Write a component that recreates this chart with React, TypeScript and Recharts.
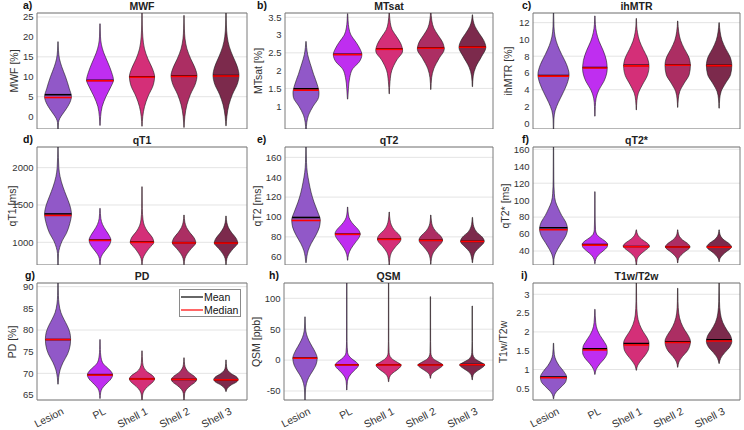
import React from 'react';
import { ComposedChart, Bar, XAxis, YAxis, CartesianGrid, ReferenceArea } from 'recharts';

const categories = ['Lesion', 'PL', 'Shell 1', 'Shell 2', 'Shell 3'];
const colors = ['#9158C8', '#BF2EF0', '#D42F78', '#AC2E63', '#7C2A4C'];

// Violin outlines: [value, half-width as fraction of category band]
const mwfShapes = [
  [[-3.6,0.004],[-1.5,0.012],[-0.5,0.04],[0.5,0.1],[2,0.2],[4,0.3],[5,0.32],[7,0.27],[10,0.18],[12.5,0.09],[14.5,0.035],[16.5,0.012],[18.8,0.004]],
  [[-2.2,0.004],[0,0.015],[2.5,0.05],[5,0.14],[7.5,0.26],[9.2,0.32],[11,0.28],[13.5,0.19],[16,0.09],[18,0.035],[20,0.012],[23.3,0.004]],
  [[-2.4,0.004],[0,0.018],[2.5,0.06],[5,0.14],[8,0.27],[10,0.3],[12,0.25],[14.5,0.14],[17,0.06],[20,0.02],[23,0.008],[27,0.004]],
  [[-2.7,0.004],[0,0.02],[3,0.07],[5.5,0.15],[8.5,0.28],[10.2,0.31],[12,0.27],[14.5,0.16],[17,0.07],[19.5,0.025],[22,0.01],[25.4,0.004]],
  [[-2.3,0.004],[0,0.02],[3,0.07],[5.5,0.15],[8.5,0.28],[10.3,0.31],[12.5,0.27],[15,0.17],[17.5,0.08],[20,0.03],[23,0.01],[27,0.004]],
];
const mwfMean = [5.5, 9.1, 10.0, 10.2, 10.3];
const mwfMedian = [4.8, 9.0, 9.9, 10.1, 10.2];
const mwfTicks = [0, 5, 10, 15, 20, 25];

const mtsatShapes = [
  [[0.3,0.004],[0.55,0.02],[0.75,0.06],[1.0,0.17],[1.25,0.3],[1.38,0.31],[1.6,0.27],[1.9,0.18],[2.2,0.1],[2.45,0.04],[2.65,0.015],[2.82,0.004]],
  [[1.2,0.004],[1.5,0.02],[1.8,0.05],[2.05,0.12],[2.25,0.28],[2.45,0.34],[2.6,0.3],[2.8,0.2],[3.0,0.08],[3.2,0.03],[3.4,0.012],[3.6,0.004]],
  [[1.35,0.004],[1.7,0.02],[2.0,0.06],[2.3,0.18],[2.55,0.32],[2.75,0.28],[2.95,0.18],[3.15,0.07],[3.35,0.025],[3.65,0.004]],
  [[1.47,0.004],[1.8,0.02],[2.05,0.07],[2.35,0.2],[2.6,0.32],[2.8,0.28],[3.0,0.17],[3.2,0.07],[3.4,0.025],[3.7,0.004]],
  [[1.55,0.004],[1.85,0.02],[2.1,0.08],[2.4,0.22],[2.65,0.32],[2.85,0.27],[3.05,0.16],[3.25,0.06],[3.4,0.02],[3.57,0.004]],
];
const mtsatMean = [1.49, 2.46, 2.61, 2.64, 2.67];
const mtsatMedian = [1.45, 2.45, 2.6, 2.63, 2.66];
const mtsatTicks = [0.5, 1, 1.5, 2, 2.5, 3, 3.5];

const ihmtrShapes = [
  [[-0.8,0.004],[0.5,0.01],[1.5,0.04],[2.5,0.12],[3.5,0.22],[4.7,0.33],[5.8,0.38],[7,0.32],[8.2,0.2],[9.3,0.1],[10.3,0.04],[11.5,0.012],[13.3,0.004]],
  [[0.85,0.004],[2,0.01],[3,0.03],[4,0.1],[5,0.22],[6.5,0.3],[7.5,0.28],[8.7,0.2],[9.8,0.1],[10.8,0.04],[11.8,0.012],[12.8,0.004]],
  [[1.6,0.004],[2.7,0.015],[3.6,0.05],[4.6,0.15],[5.7,0.27],[6.8,0.31],[7.8,0.27],[8.8,0.17],[9.8,0.08],[10.8,0.03],[11.6,0.01],[12.5,0.004]],
  [[1.9,0.004],[2.9,0.015],[3.8,0.05],[4.8,0.16],[5.8,0.28],[6.9,0.31],[7.9,0.27],[8.9,0.16],[9.9,0.07],[10.9,0.025],[12.2,0.004]],
  [[1.8,0.004],[2.9,0.015],[3.8,0.05],[4.8,0.16],[5.8,0.28],[6.9,0.31],[7.9,0.27],[8.9,0.16],[9.9,0.07],[10.9,0.025],[12.0,0.004]],
];
const ihmtrMean = [5.68, 6.65, 6.9, 6.95, 6.9];
const ihmtrMedian = [5.62, 6.6, 6.85, 6.92, 6.87];
const ihmtrTicks = [0, 2, 4, 6, 8, 10, 12];

const qt1Shapes = [
  [[690,0.004],[850,0.012],[930,0.04],[1020,0.1],[1120,0.2],[1250,0.28],[1380,0.32],[1500,0.28],[1620,0.2],[1740,0.12],[1880,0.05],[2000,0.02],[2280,0.004]],
  [[700,0.004],[780,0.015],[840,0.06],[900,0.14],[970,0.23],[1030,0.26],[1090,0.22],[1160,0.14],[1240,0.06],[1320,0.02],[1455,0.004]],
  [[700,0.004],[780,0.02],[850,0.08],[920,0.17],[1000,0.28],[1070,0.24],[1140,0.14],[1220,0.06],[1300,0.025],[1450,0.008],[1745,0.004]],
  [[700,0.004],[780,0.02],[850,0.08],[920,0.18],[995,0.28],[1060,0.24],[1130,0.14],[1200,0.06],[1270,0.02],[1366,0.004]],
  [[700,0.004],[780,0.02],[850,0.08],[920,0.18],[990,0.28],[1055,0.24],[1125,0.14],[1195,0.06],[1265,0.02],[1353,0.004]],
];
const qt1Mean = [1380, 1030, 1005, 995, 992];
const qt1Median = [1360, 1025, 1000, 992, 990];
const qt1Ticks = [1000, 1500, 2000];

const qt2Shapes = [
  [[54,0.004],[60,0.02],[66,0.05],[73,0.12],[82,0.24],[90,0.32],[97,0.34],[105,0.28],[115,0.19],[125,0.12],[135,0.07],[145,0.03],[155,0.012],[172,0.004]],
  [[56.5,0.004],[62,0.02],[68,0.08],[74,0.18],[80,0.28],[83,0.3],[87,0.26],[92,0.15],[97,0.06],[102,0.02],[110,0.004]],
  [[51,0.004],[58,0.015],[64,0.05],[70,0.15],[76,0.27],[78,0.28],[82,0.24],[87,0.12],[92,0.05],[97,0.02],[105,0.004]],
  [[52.5,0.004],[58,0.015],[64,0.06],[70,0.17],[75,0.27],[77,0.28],[81,0.23],[86,0.11],[91,0.04],[96,0.015],[102,0.004]],
  [[54,0.004],[59,0.02],[65,0.07],[70,0.18],[74,0.27],[76,0.28],[80,0.23],[85,0.1],[90,0.035],[95,0.012],[99.6,0.004]],
];
const qt2Mean = [99.5, 82.7, 77.7, 76.6, 75.5];
const qt2Median = [96.5, 82.5, 77.5, 76.4, 75.4];
const qt2Ticks = [60, 80, 100, 120, 140, 160];

const qt2sShapes = [
  [[22,0.004],[30,0.01],[36,0.04],[42,0.1],[50,0.2],[58,0.3],[66,0.34],[74,0.3],[82,0.2],[90,0.12],[98,0.05],[108,0.02],[125,0.008],[165,0.004]],
  [[25,0.004],[30,0.02],[35,0.08],[40,0.2],[45,0.3],[48,0.31],[52,0.24],[56,0.12],[60,0.04],[65,0.015],[80,0.006],[110,0.004]],
  [[22,0.004],[30,0.02],[35,0.08],[40,0.2],[44,0.3],[46,0.32],[50,0.25],[54,0.13],[58,0.05],[62,0.015],[65,0.004]],
  [[26,0.004],[31,0.02],[35,0.08],[40,0.2],[43,0.28],[45,0.3],[49,0.24],[53,0.12],[57,0.045],[61,0.015],[65,0.004]],
  [[27.4,0.004],[31,0.02],[35,0.08],[40,0.2],[43,0.28],[45,0.3],[49,0.24],[53,0.12],[57,0.045],[61,0.015],[65,0.004]],
];
const qt2sMean = [67.5, 47.5, 45.3, 44.9, 44.8];
const qt2sMedian = [65, 47, 45, 44.7, 44.6];
const qt2sTicks = [40, 60, 80, 100, 120, 140, 160];

const pdShapes = [
  [[67.5,0.004],[69,0.015],[70.8,0.05],[72.5,0.12],[74.5,0.23],[76.5,0.29],[78,0.3],[79.5,0.28],[81,0.22],[82.5,0.14],[84,0.07],[86,0.025],[88,0.01],[92,0.004]],
  [[64.2,0.004],[65.5,0.015],[66.5,0.05],[67.5,0.14],[68.7,0.26],[69.6,0.3],[70.5,0.26],[71.5,0.15],[72.5,0.06],[74,0.02],[75.5,0.008],[77.8,0.004]],
  [[63,0.004],[65,0.015],[66,0.05],[67,0.14],[68,0.26],[68.7,0.3],[69.5,0.25],[70.3,0.13],[71.2,0.05],[72.5,0.015],[75.2,0.004]],
  [[63,0.004],[65.3,0.015],[66.3,0.06],[67.2,0.16],[68,0.27],[68.6,0.3],[69.3,0.25],[70.1,0.13],[71,0.05],[72,0.015],[73.6,0.004]],
  [[65.8,0.004],[66.5,0.03],[67.3,0.12],[68,0.25],[68.6,0.29],[69.2,0.25],[69.9,0.13],[70.6,0.05],[71.5,0.015],[73.1,0.004]],
];
const pdMean = [77.8, 69.7, 68.75, 68.6, 68.5];
const pdMedian = [77.8, 69.6, 68.7, 68.6, 68.5];
const pdTicks = [65, 70, 75, 80, 85, 90];

const qsmShapes = [
  [[-66,0.004],[-50,0.01],[-38,0.035],[-28,0.09],[-18,0.18],[-8,0.26],[3,0.29],[12,0.25],[22,0.17],[32,0.09],[42,0.035],[52,0.012],[70,0.004]],
  [[-48.4,0.004],[-35,0.015],[-26,0.06],[-18,0.16],[-12,0.25],[-8,0.28],[-3,0.22],[2,0.12],[7,0.05],[12,0.02],[30,0.006],[126,0.004]],
  [[-35,0.004],[-28,0.02],[-22,0.08],[-16,0.2],[-11,0.28],[-8,0.3],[-4,0.22],[1,0.1],[6,0.035],[12,0.012],[30,0.005],[126,0.004]],
  [[-29.5,0.004],[-24,0.02],[-19,0.09],[-14,0.2],[-10,0.28],[-8,0.3],[-4,0.22],[1,0.09],[6,0.03],[12,0.01],[30,0.005],[102.7,0.004]],
  [[-32,0.004],[-25,0.02],[-19,0.09],[-14,0.2],[-10,0.28],[-8,0.3],[-4,0.22],[1,0.09],[6,0.03],[12,0.01],[30,0.005],[87.6,0.004]],
];
const qsmMean = [3.5, -7.5, -7.5, -7.5, -7.2];
const qsmMedian = [3, -8, -8, -8, -7.5];
const qsmTicks = [-50, 0, 50, 100];

const t1t2Shapes = [
  [[0.22,0.004],[0.33,0.025],[0.42,0.08],[0.55,0.2],[0.68,0.3],[0.8,0.32],[0.95,0.25],[1.1,0.14],[1.25,0.06],[1.4,0.02],[1.7,0.004]],
  [[0.87,0.004],[1.0,0.03],[1.15,0.12],[1.3,0.24],[1.45,0.3],[1.6,0.29],[1.75,0.22],[1.9,0.13],[2.05,0.06],[2.25,0.02],[2.6,0.004]],
  [[0.98,0.004],[1.1,0.03],[1.25,0.12],[1.4,0.23],[1.55,0.3],[1.7,0.31],[1.85,0.26],[2.0,0.17],[2.2,0.08],[2.45,0.025],[2.8,0.008],[3.3,0.004]],
  [[1.06,0.004],[1.2,0.03],[1.35,0.12],[1.5,0.24],[1.65,0.3],[1.75,0.31],[1.9,0.26],[2.05,0.17],[2.25,0.08],[2.5,0.025],[2.8,0.008],[3.16,0.004]],
  [[1.16,0.004],[1.3,0.04],[1.45,0.14],[1.6,0.26],[1.75,0.31],[1.9,0.28],[2.05,0.19],[2.25,0.09],[2.5,0.03],[2.8,0.01],[3.35,0.004]],
];
const t1t2Mean = [0.8, 1.55, 1.69, 1.74, 1.79];
const t1t2Median = [0.78, 1.52, 1.65, 1.72, 1.76];
const t1t2Ticks = [0.5, 1, 1.5, 2, 2.5, 3];

const panels = [
  { letter: 'a)', title: 'MWF', ylabel: 'MWF [%]', domain: [-3.1, 26], ticks: mwfTicks, shapes: mwfShapes, mean: mwfMean, median: mwfMedian, x0: 37, x1: 247, y0: 13, y1: 129, lx: 14, tx: 23 },
  { letter: 'b)', title: 'MTsat', ylabel: 'MTsat [%]', domain: [0.36, 3.62], ticks: mtsatTicks, shapes: mtsatShapes, mean: mtsatMean, median: mtsatMedian, x0: 285, x1: 493, y0: 13, y1: 129, lx: 258, tx: 257 },
  { letter: 'c)', title: 'ihMTR', ylabel: 'ihMTR [%]', domain: [-0.68, 13.15], ticks: ihmtrTicks, shapes: ihmtrShapes, mean: ihmtrMean, median: ihmtrMedian, x0: 533, x1: 740, y0: 13, y1: 129, lx: 508, tx: 522 },
  { letter: 'd)', title: 'qT1', ylabel: 'qT1 [ms]', domain: [696, 2277], ticks: qt1Ticks, shapes: qt1Shapes, mean: qt1Mean, median: qt1Median, x0: 37, x1: 247, y0: 147, y1: 265, lx: 12, tx: 23 },
  { letter: 'e)', title: 'qT2', ylabel: 'qT2 [ms]', domain: [51.7, 170.4], ticks: qt2Ticks, shapes: qt2Shapes, mean: qt2Mean, median: qt2Median, x0: 285, x1: 493, y0: 147, y1: 265, lx: 257, tx: 257 },
  { letter: 'f)', title: 'qT2*', ylabel: 'qT2* [ms]', domain: [23.5, 162.7], ticks: qt2sTicks, shapes: qt2sShapes, mean: qt2sMean, median: qt2sMedian, x0: 533, x1: 740, y0: 147, y1: 265, lx: 505, tx: 522 },
  { letter: 'g)', title: 'PD', ylabel: 'PD [%]', domain: [63.85, 90.85], ticks: pdTicks, shapes: pdShapes, mean: pdMean, median: pdMedian, x0: 37, x1: 247, y0: 283, y1: 400, lx: 12, tx: 25, showX: true },
  { letter: 'h)', title: 'QSM', ylabel: 'QSM [ppb]', domain: [-64.6, 124.8], ticks: qsmTicks, shapes: qsmShapes, mean: qsmMean, median: qsmMedian, x0: 284, x1: 493, y0: 283, y1: 400, lx: 256, tx: 269, showX: true },
  { letter: 'i)', title: 'T1w/T2w', ylabel: 'T1w/T2w', domain: [0.19, 3.3], ticks: t1t2Ticks, shapes: t1t2Shapes, mean: t1t2Mean, median: t1t2Median, x0: 533, x1: 740, y0: 283, y1: 400, lx: 503, tx: 521, showX: true },
];

function slopes(vs: number[], ws: number[]) {
  const n = vs.length;
  const h: number[] = [];
  const s: number[] = [];
  for (let i = 0; i < n - 1; i++) {
    h[i] = vs[i + 1] - vs[i];
    s[i] = (ws[i + 1] - ws[i]) / h[i];
  }
  const m: number[] = new Array(n).fill(0);
  for (let i = 1; i < n - 1; i++) {
    const s0 = s[i - 1], s1 = s[i];
    if (s0 * s1 <= 0) { m[i] = 0; continue; }
    const p = (s0 * h[i] + s1 * h[i - 1]) / (h[i - 1] + h[i]);
    m[i] = (Math.sign(s0) + Math.sign(s1)) * Math.min(Math.abs(s0), Math.abs(s1), 0.5 * Math.abs(p));
  }
  m[0] = (3 * s[0] - m[1]) / 2;
  m[n - 1] = (3 * s[n - 2] - m[n - 2]) / 2;
  return m;
}

function widthAt(vs: number[], ws: number[], m: number[], v: number) {
  const n = vs.length;
  if (v <= vs[0]) return ws[0];
  if (v >= vs[n - 1]) return ws[n - 1];
  let i = 0;
  while (i < n - 2 && v > vs[i + 1]) i++;
  const h = vs[i + 1] - vs[i];
  const t = (v - vs[i]) / h;
  const t2 = t * t, t3 = t2 * t;
  return (2 * t3 - 3 * t2 + 1) * ws[i] + (t3 - 2 * t2 + t) * h * m[i] + (-2 * t3 + 3 * t2) * ws[i + 1] + (t3 - t2) * h * m[i + 1];
}

function Violin(props: any) {
  const { x, y, width, height, payload, domain } = props;
  const row = payload || props;
  const [lo, hi] = domain;
  const top = Math.min(y, y + height);
  const H = Math.abs(height);
  const cx = x + width / 2;
  const band = width;
  const Y = (v: number) => top + ((hi - v) / (hi - lo)) * H;
  const X = (w: number, side: number) => cx + side * w * band;
  const vs = row.knots.map((k: number[]) => k[0]);
  const ws = row.knots.map((k: number[]) => k[1]);
  const m = slopes(vs, ws);
  const n = vs.length;
  let d = `M${X(ws[0], 1)},${Y(vs[0])}`;
  for (let i = 0; i < n - 1; i++) {
    const h = vs[i + 1] - vs[i];
    d += ` C${X(ws[i] + m[i] * h / 3, 1)},${Y(vs[i] + h / 3)} ${X(ws[i + 1] - m[i + 1] * h / 3, 1)},${Y(vs[i + 1] - h / 3)} ${X(ws[i + 1], 1)},${Y(vs[i + 1])}`;
  }
  d += ` L${X(ws[n - 1], -1)},${Y(vs[n - 1])}`;
  for (let i = n - 2; i >= 0; i--) {
    const h = vs[i + 1] - vs[i];
    d += ` C${X(ws[i + 1] - m[i + 1] * h / 3, -1)},${Y(vs[i + 1] - h / 3)} ${X(ws[i] + m[i] * h / 3, -1)},${Y(vs[i] + h / 3)} ${X(ws[i], -1)},${Y(vs[i])}`;
  }
  d += ' Z';
  const wMean = widthAt(vs, ws, m, row.mean);
  const wMed = widthAt(vs, ws, m, row.median);
  return (
    <g>
      <path d={d} fill={row.color} stroke="#1a1a1a" strokeOpacity={0.85} strokeWidth={0.7} />
      <line x1={X(wMean, -1)} x2={X(wMean, 1)} y1={Y(row.mean)} y2={Y(row.mean)} stroke="#000" strokeWidth={1.6} />
      <line x1={X(wMed, -1)} x2={X(wMed, 1)} y1={Y(row.median)} y2={Y(row.median)} stroke="#FF0000" strokeWidth={1.6} />
    </g>
  );
}

const RotTick = (props: any) => {
  const { x, y, payload } = props;
  return (
    <text x={x + 3} y={y - 1} transform={`rotate(-27 ${x + 3} ${y - 1})`} textAnchor="end" fontSize={10.5} fill="#333" dy="0.71em">
      {payload.value}
    </text>
  );
};

function Panel({ p }: { p: any }) {
  const YW = 40;
  const XH = p.showX ? 30 : 0;
  const mt = 2, mr = 2;
  const left = p.x0 - YW;
  const top = p.y0 - mt;
  const width = p.x1 - p.x0 + YW + mr;
  const height = p.y1 - p.y0 + mt + XH;
  const data = categories.map((c, i) => ({
    cat: c,
    span: [p.domain[0], p.domain[1]],
    knots: p.shapes[i],
    mean: p.mean[i],
    median: p.median[i],
    color: colors[i],
  }));
  return (
    <div style={{ position: 'absolute', left, top }}>
      <ComposedChart width={width} height={height} data={data} margin={{ top: mt, right: mr, bottom: 0, left: 0 }} barCategoryGap={0} style={{ overflow: 'visible' }}>
        <CartesianGrid vertical={false} stroke="#e4e4e4" />
        <XAxis dataKey="cat" hide={!p.showX} height={XH} tick={<RotTick />} tickLine={false} axisLine={false} interval={0} />
        <YAxis type="number" domain={p.domain} ticks={p.ticks} allowDataOverflow width={YW} tickLine={false} axisLine={false} tickSize={2} tickMargin={1.5} tick={{ fontSize: 9.5, fill: '#333' }} />
        <Bar dataKey="span" isAnimationActive={false} shape={(sp: any) => <Violin {...sp} domain={p.domain} />} />
        <ReferenceArea y1={p.domain[0]} y2={p.domain[1]} fill="none" stroke="#7a7a7a" strokeWidth={1} ifOverflow="visible" />
      </ComposedChart>
    </div>
  );
}

export default function App() {
  return (
    <div style={{ position: 'absolute', left: 0, top: 0, width: 744, height: 430, background: '#fff', fontFamily: '"Liberation Sans", Arial, sans-serif', overflow: 'hidden' }}>
      {panels.map((p) => (
        <Panel key={p.letter} p={p} />
      ))}
      {panels.map((p) => (
        <div key={p.letter + 't'} style={{ position: 'absolute', left: p.x0, width: p.x1 - p.x0, top: p.y0 - 13, textAlign: 'center', fontWeight: 'bold', fontSize: 10.5, color: '#222', lineHeight: '12px' }}>
          {p.title}
        </div>
      ))}
      {panels.map((p) => (
        <div key={p.letter + 'l'} style={{ position: 'absolute', left: p.tx, top: p.y0 - 14, fontWeight: 'bold', fontSize: 10.5, color: '#111', lineHeight: '12px' }}>
          {p.letter}
        </div>
      ))}
      {panels.map((p) => (
        <div key={p.letter + 'y'} style={{ position: 'absolute', left: p.lx - 60, top: (p.y0 + p.y1) / 2 - 6, width: 120, textAlign: 'center', fontSize: 10.5, color: '#333', lineHeight: '12px', transform: 'rotate(-90deg)', transformOrigin: '60px 6px' }}>
          {p.ylabel}
        </div>
      ))}
      <div style={{ position: 'absolute', left: 179, top: 289, width: 62, height: 28, border: '1px solid #8a8a8a', background: '#fff', boxSizing: 'border-box', fontSize: 10.5, color: '#111' }}>
        <div style={{ position: 'absolute', left: 1, top: 1, display: 'flex', alignItems: 'center', height: 12 }}>
          <svg width={22} height={12}><line x1={0} x2={22} y1={6} y2={6} stroke="#000" strokeWidth={1.2} /></svg>
          <span style={{ marginLeft: 1 }}>Mean</span>
        </div>
        <div style={{ position: 'absolute', left: 1, top: 14, display: 'flex', alignItems: 'center', height: 12 }}>
          <svg width={22} height={12}><line x1={0} x2={22} y1={6} y2={6} stroke="#FF4040" strokeWidth={1.6} /></svg>
          <span style={{ marginLeft: 1 }}>Median</span>
        </div>
      </div>
    </div>
  );
}
